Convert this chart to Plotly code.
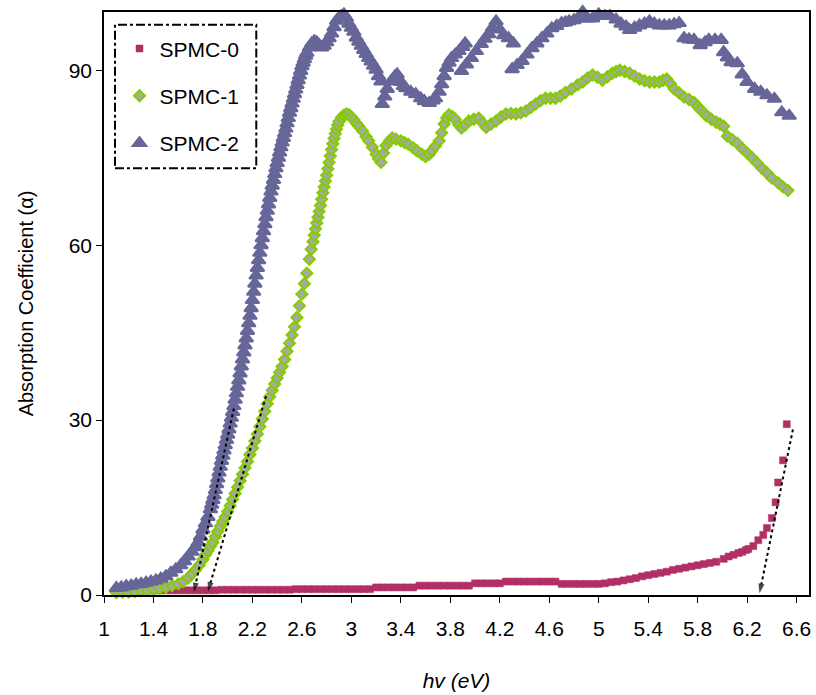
import plotly.graph_objects as go

# ---- photon energy (eV) and absorption coefficient for each sample ----
spmc0_energy = [
    1.10, 1.15, 1.20, 1.25, 1.30, 1.35, 1.40, 1.45, 1.50, 1.55, 1.60, 1.65, 1.70, 1.75, 1.80, 1.85, 1.90,
    1.95, 2.00, 2.05, 2.10, 2.15, 2.20, 2.25, 2.30, 2.35, 2.40, 2.45, 2.50,
    2.55, 2.60, 2.65, 2.70, 2.75, 2.80, 2.85, 2.90, 2.95, 3.00, 3.05, 3.10, 3.15,
    3.20, 3.25, 3.30, 3.35, 3.40, 3.45, 3.50,
    3.55, 3.60, 3.65, 3.70, 3.75, 3.80, 3.85, 3.90, 3.95,
    4.00, 4.05, 4.10, 4.15, 4.20,
    4.25, 4.30, 4.35, 4.40, 4.45, 4.50, 4.55, 4.60, 4.65,
    4.70, 4.75, 4.80, 4.85, 4.90, 4.95, 5.00,
    5.05, 5.10, 5.15, 5.20, 5.25, 5.30, 5.35, 5.40, 5.45, 5.50, 5.55, 5.60, 5.65, 5.70, 5.75,
    5.80, 5.85, 5.90, 5.95,
    6.01, 6.05, 6.09, 6.13, 6.16, 6.19, 6.21, 6.25, 6.29, 6.33, 6.36, 6.40, 6.43, 6.45, 6.49, 6.52,
]
spmc0_alpha = [
    0.8, 0.8, 0.8, 0.8, 0.8, 0.8, 0.8, 0.8, 0.8, 0.8, 0.8, 0.8, 0.8, 0.8, 0.8, 0.8, 0.8,
    0.9, 0.9, 0.9, 0.9, 0.9, 0.9, 0.9, 0.9, 0.9, 0.9, 0.9, 0.9,
    1.0, 1.0, 1.0, 1.0, 1.0, 1.0, 1.0, 1.0, 1.0, 1.0, 1.0, 1.0, 1.0,
    1.3, 1.3, 1.3, 1.3, 1.3, 1.3, 1.3,
    1.6, 1.6, 1.6, 1.6, 1.6, 1.6, 1.6, 1.6, 1.6,
    2.0, 2.0, 2.0, 2.0, 2.0,
    2.3, 2.3, 2.3, 2.3, 2.3, 2.3, 2.3, 2.3, 2.3,
    1.9, 1.9, 1.9, 1.9, 1.9, 1.9, 1.9,
    2.0, 2.2, 2.3, 2.5, 2.7, 2.9, 3.2, 3.4, 3.6, 3.8, 4.0, 4.3, 4.5, 4.7, 4.9,
    5.1, 5.3, 5.5, 5.7,
    6.2, 6.6, 6.9, 7.2, 7.4, 7.7, 7.9, 8.4, 9.4, 10.3, 11.5, 13.2, 15.9, 19.3, 23.1, 29.3,
]

spmc1_energy = [
    1.10, 1.15, 1.20, 1.25, 1.30, 1.35, 1.40, 1.45, 1.50, 1.55, 1.60, 1.64, 1.68, 1.71, 1.74, 1.77,
    1.80, 1.82, 1.84, 1.86, 1.88, 1.90, 1.92, 1.94, 1.96, 1.98, 2.00, 2.02, 2.04, 2.06, 2.08,
    2.10, 2.12, 2.14, 2.16, 2.18, 2.20, 2.22, 2.24, 2.26, 2.28, 2.30, 2.32, 2.34, 2.36, 2.38,
    2.40, 2.42, 2.44, 2.46, 2.48, 2.50, 2.52, 2.54, 2.56, 2.58, 2.60, 2.62, 2.64, 2.66, 2.675,
    2.69, 2.70, 2.71, 2.72, 2.73, 2.74, 2.75, 2.76, 2.77, 2.78, 2.79, 2.80, 2.81, 2.82, 2.83,
    2.84, 2.85, 2.86, 2.87, 2.88, 2.89, 2.90, 2.92, 2.94, 2.96, 2.98, 3.00, 3.02, 3.04, 3.06,
    3.09, 3.12, 3.14, 3.17, 3.20, 3.22, 3.24, 3.26, 3.28, 3.31, 3.33, 3.36, 3.40, 3.43, 3.46,
    3.50, 3.53, 3.57, 3.60, 3.63, 3.65, 3.68, 3.71, 3.73, 3.75, 3.77, 3.79, 3.82, 3.84, 3.87,
    3.89, 3.92, 3.95, 3.99, 4.03, 4.06, 4.09, 4.13, 4.17, 4.21, 4.25, 4.29, 4.33, 4.37, 4.41,
    4.45, 4.49, 4.53, 4.57, 4.61, 4.65, 4.69, 4.73, 4.78, 4.83, 4.87, 4.91, 4.95, 4.99, 5.03,
    5.07, 5.11, 5.14, 5.17, 5.21, 5.25, 5.29, 5.33, 5.37, 5.41, 5.45, 5.49, 5.52, 5.55, 5.58,
    5.61, 5.65, 5.69, 5.73, 5.77, 5.80, 5.82, 5.85, 5.87, 5.91, 5.95, 5.98, 6.01, 6.04, 6.08,
    6.12, 6.16, 6.20, 6.24, 6.28, 6.32, 6.36, 6.40, 6.45, 6.49, 6.53,
]
spmc1_alpha = [
    0.4, 0.5, 0.5, 0.6, 0.7, 0.8, 0.9, 1.1, 1.3, 1.6, 1.9, 2.3, 2.9, 3.6, 4.3, 5.1,
    6.1, 6.9, 7.6, 8.3, 9.0, 10.0, 10.9, 11.8, 12.6, 13.4, 14.3, 15.3, 16.4, 17.4, 18.5,
    19.6, 20.7, 21.8, 22.9, 24.1, 25.2, 26.4, 27.6, 28.9, 30.2, 31.5, 32.8, 34.0, 35.1, 36.2,
    37.2, 38.2, 39.2, 40.4, 41.8, 43.2, 44.6, 46.0, 47.6, 49.6, 51.6, 53.4, 55.2, 57.6, 59.3,
    60.6, 61.7, 62.8, 63.8, 64.8, 65.8, 66.8, 67.9, 69.0, 70.0, 71.0, 72.0, 73.1, 74.2, 75.3,
    76.4, 77.4, 78.3, 79.1, 79.9, 80.6, 81.2, 81.9, 82.3, 82.5, 82.4, 82.0, 81.5, 80.9, 80.4,
    79.6, 78.6, 77.9, 76.8, 75.6, 74.8, 74.2, 75.8, 77.1, 77.9, 78.4, 78.2, 77.9, 77.6, 77.3,
    76.7, 76.2, 75.6, 75.2, 75.6, 76.2, 77.0, 77.9, 79.3, 80.8, 81.8, 82.4, 82.0, 81.6, 80.6,
    80.1, 80.6, 81.3, 81.6, 81.8, 81.0, 80.2, 80.8, 81.3, 82.0, 82.5, 82.6, 82.5, 82.7, 83.0,
    83.6, 84.2, 84.8, 85.2, 85.2, 85.2, 85.6, 86.2, 86.8, 87.5, 88.0, 88.7, 89.2, 88.8, 88.3,
    88.9, 89.5, 89.8, 90.0, 89.8, 89.5, 89.0, 88.5, 88.2, 88.0, 88.0, 88.0, 88.3, 88.5, 87.7,
    86.8, 86.1, 85.4, 85.0, 84.5, 83.8, 83.3, 82.7, 82.2, 81.6, 81.1, 80.8, 80.4, 78.7, 78.1,
    77.5, 76.6, 75.8, 75.0, 74.1, 73.2, 72.4, 71.5, 70.7, 70.0, 69.4,
]

spmc2_energy = [
    1.10, 1.14, 1.18, 1.22, 1.26, 1.30, 1.34, 1.38, 1.42, 1.46, 1.50, 1.54, 1.58, 1.62, 1.65,
    1.68, 1.71, 1.74, 1.76, 1.78, 1.80, 1.82, 1.84,
    1.86, 1.87, 1.88, 1.89, 1.90, 1.91, 1.92, 1.93, 1.94, 1.95, 1.96, 1.97, 1.98, 1.99, 2.00,
    2.01, 2.02, 2.03, 2.04, 2.05, 2.06, 2.07, 2.08, 2.09, 2.10, 2.11, 2.12, 2.13, 2.14, 2.15,
    2.16, 2.17, 2.18, 2.19, 2.20, 2.21, 2.22, 2.23, 2.24, 2.25, 2.26, 2.27, 2.28, 2.29, 2.30,
    2.31, 2.32, 2.33, 2.34, 2.35, 2.36, 2.37, 2.38, 2.39, 2.40, 2.41, 2.42, 2.43, 2.44, 2.45,
    2.46, 2.47, 2.48, 2.49, 2.50, 2.51, 2.52, 2.53, 2.54, 2.55, 2.56, 2.57, 2.58, 2.59, 2.60,
    2.61, 2.62, 2.63, 2.64, 2.66, 2.68, 2.70, 2.72, 2.74, 2.76, 2.78, 2.80, 2.82, 2.84, 2.86,
    2.88, 2.90, 2.92, 2.94, 2.96, 2.98, 3.00, 3.02, 3.04, 3.06, 3.08, 3.10, 3.12, 3.14, 3.16,
    3.18, 3.20, 3.22, 3.24, 3.25, 3.27, 3.29, 3.32, 3.35, 3.37, 3.40, 3.42, 3.44, 3.48, 3.52,
    3.56, 3.59, 3.63, 3.66, 3.68, 3.71, 3.73, 3.75, 3.77, 3.79, 3.81, 3.84, 3.87, 3.90, 3.92,
    3.89, 3.93, 3.97, 4.01, 4.05, 4.08, 4.11, 4.14, 4.17, 4.20, 4.23, 4.27, 4.31,
    4.30, 4.34, 4.38, 4.42, 4.46, 4.50, 4.54, 4.58, 4.62, 4.66, 4.70, 4.73, 4.76, 4.80, 4.84,
    4.87, 4.91, 4.95, 5.00, 5.05, 5.09, 5.14, 5.18, 5.22, 5.25, 5.29, 5.33, 5.37, 5.41, 5.45,
    5.49, 5.53, 5.57, 5.61, 5.65, 5.69, 5.73, 5.77, 5.82, 5.86, 5.89, 5.94, 5.99, 6.01, 6.04,
    6.07, 6.12, 6.16, 6.20, 6.26, 6.31, 6.36, 6.42, 6.48, 6.54,
]
spmc2_alpha = [
    1.2, 1.3, 1.5, 1.6, 1.8, 1.9, 2.1, 2.3, 2.5, 2.8, 3.2, 3.8, 4.4, 5.1, 5.8,
    6.6, 7.4, 8.2, 9.0, 10.0, 11.2, 12.3, 13.4,
    14.7, 15.5, 16.3, 17.1, 18.0, 19.0, 20.0, 21.0, 22.0, 23.0, 23.9, 24.8, 25.7, 26.6, 27.5,
    28.4, 29.4, 30.4, 31.4, 32.4, 33.5, 34.6, 35.7, 36.8, 38.0, 39.2, 40.4, 41.6, 42.8, 44.0,
    45.3, 46.6, 47.9, 49.2, 50.6, 52.0, 53.4, 54.8, 56.1, 57.4, 58.7, 60.0, 61.2, 62.4, 63.6,
    64.8, 65.9, 67.0, 68.1, 69.2, 70.2, 71.2, 72.2, 73.2, 74.1, 75.0, 75.9, 76.8, 77.6, 78.4,
    79.2, 80.0, 80.9, 81.8, 82.7, 83.5, 84.3, 85.1, 85.9, 86.7, 87.5, 88.3, 89.1, 89.9, 90.7,
    91.3, 91.9, 92.5, 93.0, 93.9, 94.6, 95.0, 94.8, 94.3, 93.9, 94.2, 94.8, 95.5, 96.3, 97.4,
    98.5, 99.0, 99.3, 99.6, 99.0, 98.0, 97.3, 96.6, 95.6, 94.9, 94.2, 93.5, 92.8, 92.1, 91.5,
    90.8, 90.1, 89.0, 88.1, 84.2, 85.5, 86.8, 88.1, 88.9, 89.3, 88.0, 87.3, 86.9, 86.3, 85.9,
    85.2, 84.7, 84.4, 84.8, 85.2, 86.3, 87.6, 89.0, 90.4, 91.3, 92.1, 92.7, 93.3, 94.0, 94.6,
    89.9, 91.0, 92.1, 93.3, 94.5, 95.4, 96.2, 97.3, 98.4, 97.0, 96.0, 95.5, 94.6,
    90.2, 90.9, 91.6, 92.7, 93.8, 94.6, 95.5, 96.3, 97.2, 97.6, 98.1, 98.2, 98.4, 98.6, 98.9,
    100.0, 98.9, 98.9, 99.6, 99.3, 99.3, 98.7, 98.0, 97.5, 96.9, 97.3, 97.7, 98.0, 98.4, 98.0,
    97.7, 97.7, 97.7, 97.9, 98.1, 95.5, 95.3, 95.2, 94.3, 94.8, 95.2, 95.2, 95.2, 93.1, 92.2,
    91.4, 91.2, 89.3, 88.0, 86.8, 86.3, 85.7, 85.1, 82.8, 82.2,
]

# band-edge tangent lines extrapolated down to the energy axis: (start, end)
tangent_energy = {
    "SPMC-2": [2.05, 1.727],
    "SPMC-1": [2.31, 1.84],
    "SPMC-0": [6.57, 6.30],
}
tangent_alpha = {
    "SPMC-2": [32.0, 0.5],
    "SPMC-1": [34.1, 0.6],
    "SPMC-0": [28.4, 0.3],
}

x_tick_values = [1, 1.4, 1.8, 2.2, 2.6, 3, 3.4, 3.8, 4.2, 4.6, 5, 5.4, 5.8, 6.2, 6.6]
x_tick_labels = ["1", "1.4", "1.8", "2.2", "2.6", "3", "3.4", "3.8", "4.2", "4.6", "5", "5.4", "5.8", "6.2", "6.6"]
y_tick_values = [0, 30, 60, 90]

FONT = "Liberation Sans, Arial, sans-serif"
MAGENTA = "#B22F66"
LIME = "#84CC00"
GREY = "#A8A8A8"
SLATE = "#666699"

fig = go.Figure()

fig.add_trace(go.Scatter(
    x=spmc0_energy, y=spmc0_alpha, name="SPMC-0", mode="markers",
    legendgroup="g0", cliponaxis=False,
    marker=dict(symbol="square", size=7, color=MAGENTA, line=dict(width=0.5, color=MAGENTA)),
))
fig.add_trace(go.Scatter(
    x=spmc1_energy, y=spmc1_alpha, name="SPMC-1", mode="markers",
    legendgroup="g1", cliponaxis=False,
    marker=dict(symbol="diamond", size=8.5, color=GREY, line=dict(width=2, color=LIME)),
))
fig.add_trace(go.Scatter(
    x=spmc2_energy, y=spmc2_alpha, name="SPMC-2", mode="markers",
    legendgroup="g2", cliponaxis=False,
    marker=dict(symbol="triangle-up", size=12, color=SLATE, line=dict(width=2, color=SLATE)),
))

# dotted tangent lines ending in an arrowhead on the energy axis
for key in ["SPMC-2", "SPMC-1", "SPMC-0"]:
    fig.add_trace(go.Scatter(
        x=tangent_energy[key], y=tangent_alpha[key], mode="lines+markers",
        showlegend=False, hoverinfo="skip", cliponaxis=False,
        line=dict(color="black", width=2, dash="dot"),
        marker=dict(symbol=["circle", "arrow"], size=[0, 10], color="black",
                    angleref="previous", line=dict(width=0)),
    ))

# dash-dot frame around the legend
fig.add_shape(type="rect", xref="paper", yref="paper",
              x0=0.0156, x1=0.216, y0=0.732, y1=0.978,
              line=dict(color="black", width=2, dash="dashdot"),
              fillcolor="rgba(0,0,0,0)", layer="above")

axis_common = dict(
    showline=True, linecolor="black", linewidth=1.5, mirror=True,
    ticks="outside", ticklen=6, tickwidth=1, tickcolor="black",
    showgrid=False, zeroline=False,
    tickfont=dict(family=FONT, size=21, color="black"),
)

fig.update_layout(
    width=816, height=695, autosize=False,
    margin=dict(l=104, r=5, t=12, b=100),
    paper_bgcolor="white", plot_bgcolor="white",
    font=dict(family=FONT, size=20, color="black"),
    xaxis=dict(range=[1, 6.7], tickvals=x_tick_values, ticktext=x_tick_labels,
               ticklabelstandoff=8,
               title=dict(text="<i>hv (eV)</i>", font=dict(family=FONT, size=21),
                          standoff=34),
               **axis_common),
    yaxis=dict(range=[0, 100], tickvals=y_tick_values,
               title=dict(text="Absorption Coefficient (α)", font=dict(family=FONT, size=20),
                          standoff=30),
               **axis_common),
    legend=dict(x=0.022, y=0.972, xanchor="left", yanchor="top",
                bgcolor="rgba(0,0,0,0)", borderwidth=0,
                font=dict(family=FONT, size=21, color="black"),
                tracegroupgap=17, itemsizing="trace"),
    showlegend=True,
)

fig.write_html("out.html")
